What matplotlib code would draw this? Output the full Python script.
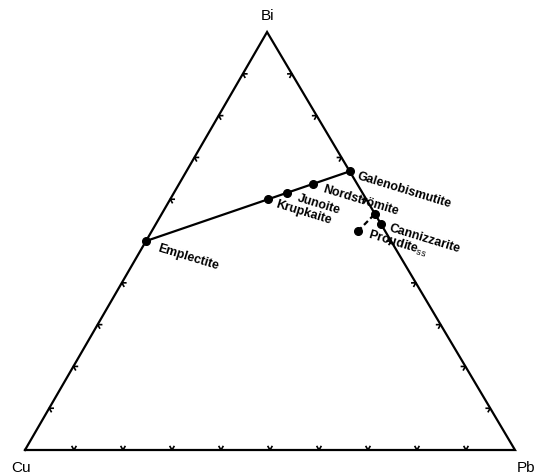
import numpy as np
import matplotlib.pyplot as plt

plt.rcParams['font.family'] = ['Liberation Sans', 'DejaVu Sans']
plt.rcParams['mathtext.fontset'] = 'custom'
plt.rcParams['mathtext.rm'] = 'Liberation Sans'
plt.rcParams['mathtext.bf'] = 'Liberation Sans:bold'

# atomic proportions Cu : Pb : Bi
minerals = ['Emplectite', 'Krupkaite', 'Junoite', 'Nordströmite',
            'Galenobismutite', 'Cannizzarite', r'Proudite$_{\rm ss}$']
cu = [1, 1, 2, 1, 0, 0, 1]
pb = [0, 1, 3, 3, 1, 46, 7.5]
bi = [1, 3, 8, 7, 2, 54, 9.33]

# end of proudite solid solution on the Bi-Pb join
pss_end = [0, 0.435, 0.565]

# label offsets in pixels
offsets = [(12, -6), (8, -4), (11, -4), (10, -4), (8, -4), (8, -3), (10, -2)]

TX = 0.494   # apex x
TY = 0.853   # apex height


def tern(c, p, b):
    s = c + p + b
    p = p / s
    b = b / s
    return p + b * TX, b * TY


def main():
    fig = plt.figure(figsize=(5.36, 4.77), dpi=100)
    ax = fig.add_axes([0, 0, 1, 1])
    ax.set_xlim(-25 / 490, 511 / 490)
    ax.set_ylim(-26 / 490, 451 / 490)
    ax.axis('off')

    verts = np.array([tern(1, 0, 0), tern(0, 1, 0), tern(0, 0, 1)])
    tri = np.vstack([verts, verts[:1]])
    ax.plot(tri[:, 0], tri[:, 1], color='k', lw=1.6, solid_joinstyle='miter')

    # small chevron ticks every 10 %
    cen = verts.mean(axis=0)
    h = 0.007
    w = 0.004
    for i in range(3):
        a = verts[i]
        b = verts[(i + 1) % 3]
        d = (b - a) / np.linalg.norm(b - a)
        n = np.array([-d[1], d[0]])
        if np.dot(cen - a, n) < 0:
            n = -n
        for t in np.arange(0.1, 0.95, 0.1):
            p = a + t * (b - a)
            pts = np.array([p + n * h - d * w, p, p + n * h + d * w])
            ax.plot(pts[:, 0], pts[:, 1], color='k', lw=1.2)

    x = []
    y = []
    for c, p, b in zip(cu, pb, bi):
        xx, yy = tern(c, p, b)
        x.append(xx)
        y.append(yy)

    # tie line emplectite - galenobismutite
    ax.plot([x[0], x[4]], [y[0], y[4]], color='k', lw=1.6)
    # proudite ss
    ex, ey = tern(*pss_end)
    ax.plot([x[6], ex], [y[6], ey], color='k', lw=1.6, ls=(0, (2.5, 1.5)))
    ax.plot([ex], [ey], 'o', color='k', ms=5.5)

    ax.plot(x, y, 'o', color='k', ms=5.5)

    for name, xx, yy, off in zip(minerals, x, y, offsets):
        ax.annotate(name, (xx, yy), xytext=off, textcoords='offset pixels',
                    ha='left', va='center', rotation=-17,
                    rotation_mode='anchor', fontsize=9, fontweight='bold')

    ax.annotate('Bi', verts[2], xytext=(0, 10), textcoords='offset pixels',
                ha='center', va='bottom', fontsize=11)
    ax.annotate('Cu', verts[0], xytext=(-4, -17), textcoords='offset pixels',
                ha='center', va='center', fontsize=11)
    ax.annotate('Pb', verts[1], xytext=(11, -17), textcoords='offset pixels',
                ha='center', va='center', fontsize=11)

    fig.savefig('out.png', dpi=100)


main()
